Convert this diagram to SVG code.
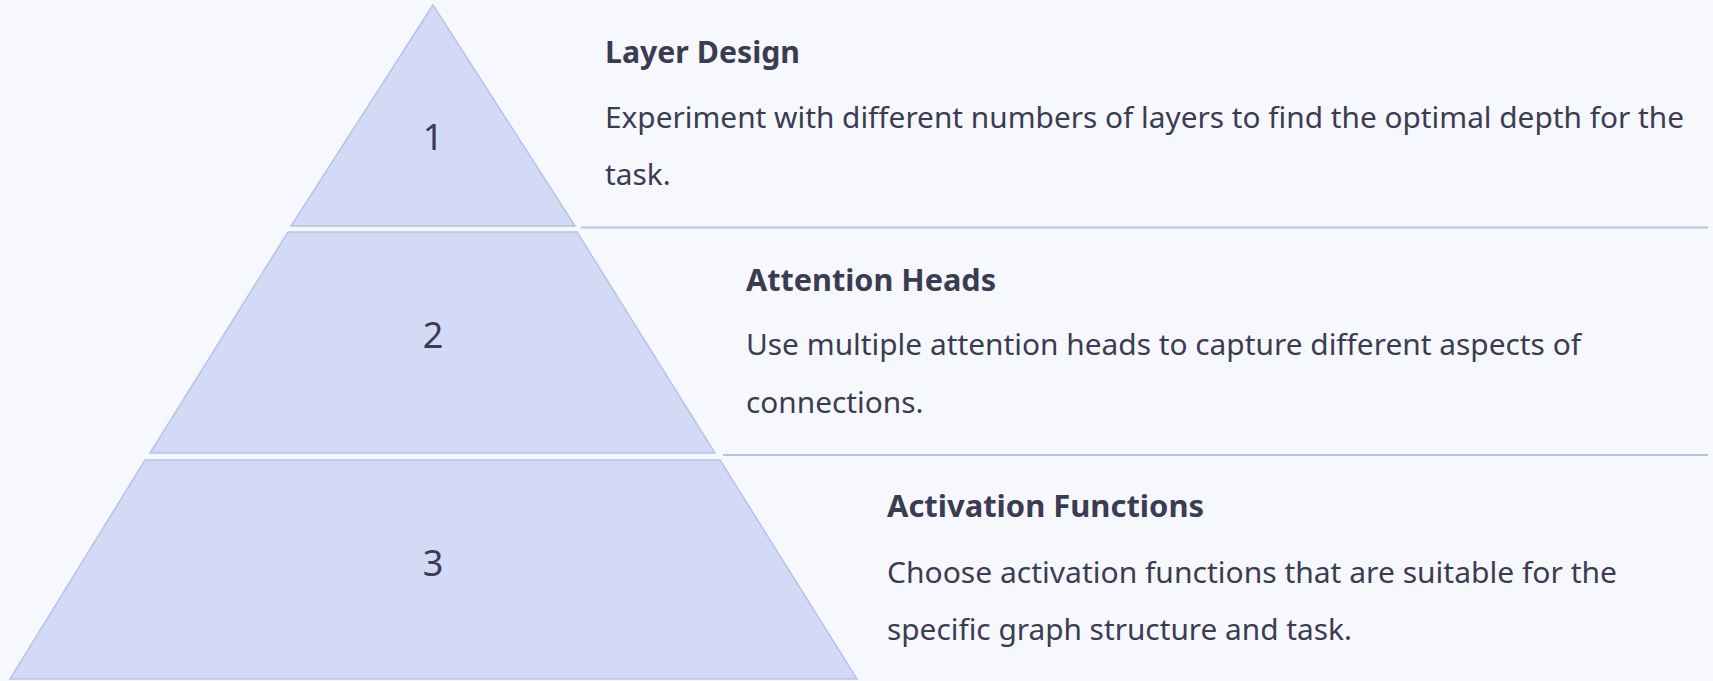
<svg xmlns="http://www.w3.org/2000/svg" width="1713" height="681" viewBox="0 0 1713 681">
<defs>
<style>
.bg{fill:#f7f8fd}
.layer{fill:#d3daf6;stroke:#b8c2e8;stroke-width:1.5}
.num{font-family:"Noto Sans","Liberation Sans",sans-serif;font-size:36px;fill:#3b3c52;text-anchor:middle}
.title{font-family:"Noto Sans","Liberation Sans",sans-serif;font-size:31px;font-weight:bold;fill:#3b3c52}
.body{font-family:"Noto Sans","Liberation Sans",sans-serif;font-size:29.8px;fill:#3b3c52}
.sep{stroke:#b8c2e8;stroke-width:2;fill:none}
</style>
</defs>
<rect class="bg" x="0" y="0" width="1713" height="681"/>
<g id="layer1">
<polygon class="layer" points="433,5 575,226 291,226"/>
<text class="num" x="433" y="150">1</text>
<text class="title" x="605" y="63" textLength="195" lengthAdjust="spacingAndGlyphs">Layer Design</text>
<text class="body" x="605" y="128" textLength="1079" lengthAdjust="spacingAndGlyphs">Experiment with different numbers of layers to find the optimal depth for the</text>
<text class="body" x="605" y="185">task.</text>
</g>
<g id="layer2">
<polygon class="layer" points="288,232 577,232 715,453 150,453"/>
<text class="num" x="433" y="348">2</text>
<text class="title" x="746" y="291" textLength="250" lengthAdjust="spacingAndGlyphs">Attention Heads</text>
<text class="body" x="746" y="355" textLength="835" lengthAdjust="spacingAndGlyphs">Use multiple attention heads to capture different aspects of</text>
<text class="body" x="746" y="413">connections.</text>
</g>
<g id="layer3">
<polygon class="layer" points="145,460 720,460 857,679 10,679"/>
<text class="num" x="433" y="576">3</text>
<text class="title" x="887" y="517" textLength="317" lengthAdjust="spacingAndGlyphs">Activation Functions</text>
<text class="body" x="887" y="583" textLength="730" lengthAdjust="spacingAndGlyphs">Choose activation functions that are suitable for the</text>
<text class="body" x="887" y="640">specific graph structure and task.</text>
</g>
<g id="connectors">
<line class="sep" x1="581" y1="227.5" x2="1708" y2="227.5"/>
<line class="sep" x1="723" y1="455" x2="1708" y2="455"/>
</g>
</svg>
